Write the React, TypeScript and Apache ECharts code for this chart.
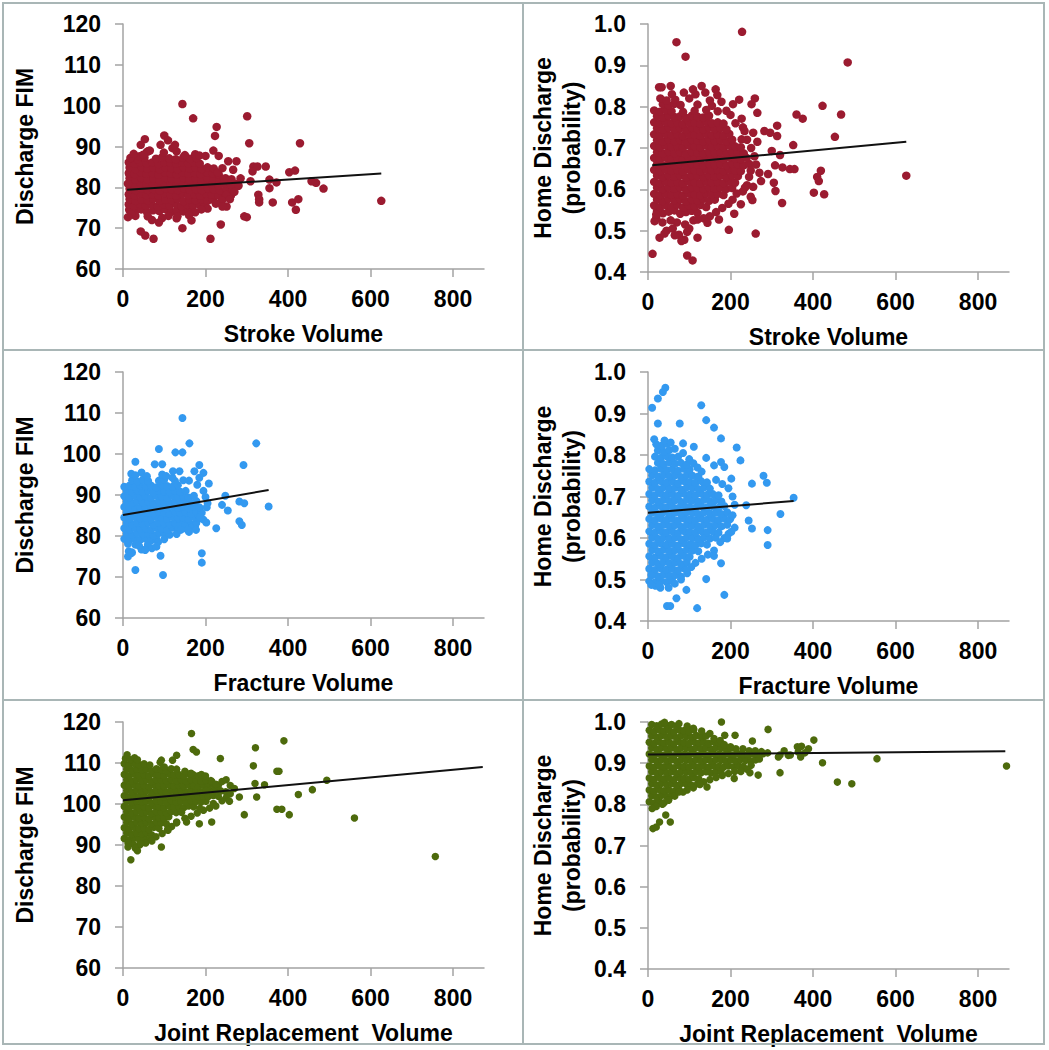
import React, { useEffect, useRef } from "react";
import * as echarts from "echarts";

// ---------- tick values ----------
const xTicks = [0, 200, 400, 600, 800];

// ---------- Stroke: Discharge FIM ----------
const strokeFim: number[][] = [
  [15,74.5],[29,74.1],[44,74.6],[58,74.0],[73,74.4],[88,74.2],[102,74.7],[117,74.0],[131,74.4],[146,74.1],[158,74.6],
  [14,75.8],[27,75.4],[41,75.9],[55,75.5],[70,75.7],[84,75.3],[99,75.8],[113,75.5],[128,75.9],[142,75.4],[156,75.7],[170,75.5],[185,75.8],[198,75.6],
  [16,77.1],[30,76.7],[45,77.0],[60,76.8],[74,77.2],[89,76.7],[103,77.0],[118,76.9],[132,77.2],[147,76.6],[161,77.0],[176,76.8],[190,77.1],[205,76.7],[218,77.0],
  [14,78.3],[28,78.0],[42,78.4],[57,78.1],[71,78.3],[86,78.0],[100,78.5],[115,78.2],[129,78.0],[144,78.4],[158,78.1],[173,78.3],[187,78.0],[202,78.4],[216,78.2],[231,78.0],[247,78.4],[262,78.1],
  [16,79.6],[31,79.3],[45,79.7],[60,79.4],[74,79.6],[89,79.2],[104,79.7],[118,79.5],[133,79.3],[148,79.7],[162,79.4],[177,79.6],[191,79.3],[206,79.7],[220,79.5],[235,79.2],[250,79.6],[266,79.4],
  [14,80.9],[28,80.6],[43,81.0],[57,80.7],[72,80.9],[86,80.5],[101,81.0],[115,80.8],[130,80.6],[144,81.0],[159,80.7],[173,80.9],[188,80.6],[202,81.0],[217,80.8],[232,80.5],[246,80.9],[262,80.7],[276,80.9],
  [16,82.2],[30,81.9],[45,82.3],[59,82.0],[74,82.2],[88,81.8],[103,82.3],[118,82.1],[132,81.9],[147,82.3],[161,82.0],[176,82.2],[190,81.9],[205,82.3],[219,82.1],[234,81.8],[249,82.2],[263,82.0],
  [14,83.5],[28,83.2],[43,83.6],[57,83.3],[72,83.5],[86,83.1],[101,83.6],[116,83.4],[130,83.2],[145,83.6],[159,83.3],[174,83.5],[188,83.2],[203,83.6],[218,83.4],[232,83.1],
  [16,84.8],[30,84.5],[45,84.9],[59,84.6],[74,84.8],[89,84.4],[103,84.9],[118,84.7],[132,84.5],[147,84.9],[162,84.6],[176,84.8],[191,84.5],[205,84.9],[220,84.6],
  [14,86.1],[28,85.8],[42,86.2],[57,85.9],[71,86.1],[86,85.7],[100,86.2],[115,86.0],[129,85.8],[144,86.2],[158,85.9],[172,86.1],[186,85.8],
  [20,87.2],[35,86.9],[52,87.3],[80,87.0],[95,87.4],[112,87.1],[128,86.9],[146,87.3],[162,87.0],[178,87.2],
  [58,88.7],[62,88.9],[120,89.6],[130,88.8],[150,87.9],[175,88.1],[185,87.8],[40,87.6],[18,87.2],[230,83.6],[245,82.1],[262,80.6],[280,80.4],[285,82.2],[270,78.9],[250,78.1],[240,76.8],[225,76.0],[205,74.8],[190,74.6],[175,73.9],[160,73.2],[130,72.4],[110,73.0],[95,72.5],[70,72.0],[60,72.9],[30,73.0],[20,73.4],
  [144,100.4],[170,96.9],[301,97.4],[227,94.8],[223,92.6],[306,90.8],[429,90.8],[100,92.7],[109,91.5],[53,91.8],[43,90.4],[91,90.4],[126,90.4],[26,88.2],[65,89.0],[99,88.5],[49,88.0],[219,89.0],[200,87.7],[232,87.7],[255,86.4],[275,86.4],[241,84.7],[267,84.3],[316,85.1],[326,85.1],[346,85.1],[314,83.9],[403,83.7],[417,84.1],[309,81.5],[355,81.9],[372,81.2],[355,79.8],[457,81.5],[468,81.1],[486,79.7],[328,78.2],[330,77.1],[330,76.3],[363,76.3],[410,76.3],[425,77.1],[419,74.5],[626,76.7],[294,72.9],[300,72.7],[237,70.9],[144,70.0],[166,71.9],[212,67.4],[74,67.4],[54,68.2],[43,69.2],[12,72.7],[87,71.4],[132,72.9],[259,77.1],[251,75.3],[241,75.3],[12,80.9]
];
const strokeFimTrend: number[][] = [[10, 79.4], [626, 83.4]];

// ---------- Stroke: Home Discharge ----------
const strokeHome: number[][] = [
  [22,0.547],[36,0.542],[50,0.546],[64,0.549],[78,0.541],[92,0.545],[106,0.548],[120,0.543],
  [15,0.561],[29,0.557],[43,0.562],[57,0.558],[71,0.563],[85,0.556],[99,0.561],[113,0.559],[127,0.562],[141,0.557],
  [22,0.575],[36,0.572],[50,0.577],[64,0.573],[78,0.576],[92,0.571],[106,0.575],[120,0.573],[134,0.577],[148,0.572],[162,0.575],
  [15,0.589],[29,0.586],[43,0.59],[57,0.587],[71,0.589],[85,0.585],[99,0.59],[113,0.588],[127,0.586],[141,0.59],[155,0.587],[169,0.589],[183,0.586],
  [22,0.604],[36,0.601],[50,0.605],[64,0.602],[78,0.604],[92,0.6],[106,0.605],[120,0.603],[134,0.601],[148,0.605],[162,0.602],[176,0.604],[190,0.601],[204,0.603],
  [15,0.618],[29,0.615],[43,0.619],[57,0.616],[71,0.618],[85,0.614],[99,0.619],[113,0.617],[127,0.615],[141,0.619],[155,0.616],[169,0.618],[183,0.615],[197,0.619],[211,0.616],
  [22,0.633],[36,0.63],[50,0.634],[64,0.631],[78,0.633],[92,0.629],[106,0.634],[120,0.632],[134,0.63],[148,0.634],[162,0.631],[176,0.633],[190,0.63],[204,0.634],[218,0.632],
  [15,0.647],[29,0.644],[43,0.648],[57,0.645],[71,0.647],[85,0.643],[99,0.648],[113,0.646],[127,0.644],[141,0.648],[155,0.645],[169,0.647],[183,0.644],[197,0.648],[211,0.646],[225,0.644],
  [22,0.661],[36,0.658],[50,0.662],[64,0.659],[78,0.661],[92,0.657],[106,0.662],[120,0.66],[134,0.658],[148,0.662],[162,0.659],[176,0.661],[190,0.658],[204,0.662],[218,0.66],[232,0.658],[246,0.661],
  [15,0.676],[29,0.673],[43,0.677],[57,0.674],[71,0.676],[85,0.672],[99,0.677],[113,0.675],[127,0.673],[141,0.677],[155,0.674],[169,0.676],[183,0.673],[197,0.677],[211,0.675],[225,0.673],[239,0.676],
  [22,0.69],[36,0.687],[50,0.691],[64,0.688],[78,0.69],[92,0.686],[106,0.691],[120,0.689],[134,0.687],[148,0.691],[162,0.688],[176,0.69],[190,0.687],[204,0.691],[218,0.689],[232,0.687],
  [15,0.705],[29,0.702],[43,0.706],[57,0.703],[71,0.705],[85,0.701],[99,0.706],[113,0.704],[127,0.702],[141,0.706],[155,0.703],[169,0.705],[183,0.702],[197,0.706],[211,0.704],[225,0.702],
  [22,0.719],[36,0.716],[50,0.72],[64,0.717],[78,0.719],[92,0.715],[106,0.72],[120,0.718],[134,0.716],[148,0.72],[162,0.717],[176,0.719],[190,0.716],[204,0.72],
  [15,0.733],[29,0.73],[43,0.734],[57,0.731],[71,0.733],[85,0.729],[99,0.734],[113,0.732],[127,0.73],[141,0.734],[155,0.731],[169,0.733],[183,0.73],[197,0.734],
  [22,0.748],[36,0.745],[50,0.749],[64,0.746],[78,0.748],[92,0.744],[106,0.749],[120,0.747],[134,0.745],[148,0.749],[162,0.746],[176,0.748],[190,0.745],
  [15,0.762],[29,0.759],[43,0.763],[57,0.76],[71,0.762],[85,0.758],[99,0.763],[113,0.761],[127,0.759],[141,0.763],[155,0.76],[169,0.762],[183,0.759],
  [22,0.777],[36,0.774],[50,0.778],[64,0.775],[78,0.777],[92,0.773],[106,0.778],[120,0.776],[134,0.774],[148,0.778],
  [15,0.791],[29,0.788],[43,0.792],[57,0.789],[85,0.787],[113,0.79],[141,0.792],[169,0.789],
  [36,0.806],[50,0.803],[64,0.807],[120,0.805],[155,0.802],
  [30,0.82],[45,0.815],[58,0.83],[100,0.82],[115,0.83],[150,0.815],[190,0.79],[200,0.78],[212,0.76],[230,0.75],[240,0.72],[250,0.7],[258,0.68],[262,0.66],[270,0.64],[245,0.63],[240,0.61],[230,0.595],[215,0.59],[205,0.575],[195,0.565],[180,0.555],[165,0.545],[150,0.535],[135,0.53],[110,0.525],[90,0.515],[70,0.52],[55,0.525],[35,0.52],[20,0.53],[45,0.5],[60,0.505],[75,0.49],[100,0.505],[88,0.478],
  [228,0.981],[69,0.956],[91,0.921],[484,0.907],[130,0.85],[164,0.842],[55,0.85],[27,0.847],[33,0.847],[139,0.834],[109,0.842],[168,0.828],[87,0.834],[259,0.82],[221,0.817],[251,0.806],[206,0.806],[423,0.802],[66,0.817],[79,0.804],[178,0.812],[468,0.781],[360,0.781],[375,0.771],[265,0.785],[227,0.771],[313,0.754],[234,0.741],[255,0.737],[282,0.741],[296,0.737],[313,0.729],[453,0.727],[227,0.721],[265,0.715],[352,0.707],[300,0.693],[320,0.683],[308,0.658],[326,0.653],[344,0.649],[355,0.649],[249,0.645],[419,0.645],[410,0.63],[414,0.62],[626,0.633],[291,0.637],[274,0.62],[305,0.616],[255,0.606],[309,0.596],[402,0.592],[427,0.588],[235,0.604],[249,0.582],[253,0.574],[325,0.567],[225,0.564],[209,0.541],[196,0.502],[261,0.493],[144,0.519],[172,0.527],[120,0.527],[120,0.483],[95,0.497],[81,0.475],[95,0.44],[108,0.428],[11,0.444],[28,0.483],[40,0.493],[65,0.489],[16,0.523],[20,0.539]
];
const strokeHomeTrend: number[][] = [[10, 0.658], [626, 0.715]];

// ---------- Fracture: Discharge FIM ----------
const fractureFim: number[][] = [
  [3,79.3],[16,79.0],[29,79.4],[42,79.1],[55,79.3],[68,78.9],[81,79.2],
  [9,80.6],[22,80.3],[35,80.7],[48,80.4],[61,80.6],[74,80.2],[87,80.7],[100,80.5],[113,80.3],
  [3,81.9],[16,81.6],[29,82.0],[42,81.7],[55,81.9],[68,81.5],[81,82.0],[94,81.8],[107,81.6],[120,82.0],[133,81.7],[146,81.9],[159,81.6],
  [9,83.2],[22,82.9],[35,83.3],[48,83.0],[61,83.2],[74,82.8],[87,83.3],[100,83.1],[113,82.9],[126,83.3],[139,83.0],[152,83.2],[165,82.9],[178,83.3],
  [3,84.5],[16,84.2],[29,84.6],[42,84.3],[55,84.5],[68,84.1],[81,84.6],[94,84.4],[107,84.2],[120,84.6],[133,84.3],[146,84.5],[159,84.2],[172,84.6],[185,84.4],
  [9,85.8],[22,85.5],[35,85.9],[48,85.6],[61,85.8],[74,85.4],[87,85.9],[100,85.7],[113,85.5],[126,85.9],[139,85.6],[152,85.8],[165,85.5],[178,85.9],[191,85.7],
  [3,87.1],[16,86.8],[29,87.2],[42,86.9],[55,87.1],[68,86.7],[81,87.2],[94,87.0],[107,86.8],[120,87.2],[133,86.9],[146,87.1],[159,86.8],[172,87.2],[185,87.0],
  [9,88.4],[22,88.1],[35,88.5],[48,88.2],[61,88.4],[74,88.0],[87,88.5],[100,88.3],[113,88.1],[126,88.5],[139,88.2],[152,88.4],[165,88.1],[178,88.5],
  [3,89.7],[16,89.4],[29,89.8],[42,89.5],[55,89.7],[68,89.3],[81,89.8],[94,89.6],[107,89.4],[120,89.8],[133,89.5],[146,89.7],[159,89.4],[172,89.8],
  [9,91.0],[22,90.7],[35,91.1],[48,90.8],[61,91.0],[74,90.6],[87,91.1],[100,90.9],[113,90.7],[126,91.1],[139,90.8],[152,91.0],
  [3,92.0],[16,92.3],[29,92.0],[42,92.4],[55,92.1],[68,92.3],[81,91.9],[94,92.4],[107,92.2],[120,92.0],[133,92.4],
  [22,93.6],[35,93.3],[48,93.7],[61,93.4],[87,93.5],[100,93.8],[126,93.4],[146,93.6],
  [20,95.2],[30,94.8],[45,95.5],[58,94.6],[95,95.0],[105,94.6],[120,94.2],[160,93.5],[180,92.5],[195,91.0],[200,89.5],[205,88.0],[195,84.0],[175,82.5],[160,81.0],[130,80.5],[100,79.2],[85,78.5],[60,77.8],[30,77.9],[12,78.1],[45,76.7],[22,76.0],[14,76.3],[70,77.0],[165,82.0],[150,82.3],
  [144,108.8],[161,102.6],[323,102.6],[87,101.2],[127,100.4],[144,100.4],[30,98.1],[77,97.5],[95,97.5],[185,97.3],[292,97.3],[173,95.8],[195,95.4],[121,95.8],[137,95.8],[208,92.8],[185,94.2],[248,89.8],[240,87.6],[254,86.2],[203,87.0],[282,88.4],[294,88.0],[353,87.2],[187,84.6],[202,83.3],[226,81.9],[282,83.6],[288,82.7],[177,81.5],[157,81.5],[140,81.5],[191,75.8],[191,73.5],[91,75.2],[97,70.5],[30,71.7],[12,75.0],[20,75.8],[81,77.4],[54,76.6],[39,77.6]
];
const fractureFimTrend: number[][] = [[0, 85.1], [353, 91.2]];

// ---------- Fracture: Home Discharge ----------
const fractureHome: number[][] = [
  [3,0.496],[17,0.493],[31,0.497],[45,0.494],[59,0.496],
  [10,0.511],[24,0.508],[38,0.512],[52,0.509],[66,0.511],[80,0.507],
  [3,0.526],[17,0.523],[31,0.527],[45,0.524],[59,0.526],[73,0.522],[87,0.527],
  [10,0.541],[24,0.538],[38,0.542],[52,0.539],[66,0.541],[80,0.537],[94,0.542],
  [3,0.556],[17,0.553],[31,0.557],[45,0.554],[59,0.556],[73,0.552],[87,0.557],[101,0.555],
  [10,0.571],[24,0.568],[38,0.572],[52,0.569],[66,0.571],[80,0.567],[94,0.572],[108,0.57],[122,0.568],
  [3,0.586],[17,0.583],[31,0.587],[45,0.584],[59,0.586],[73,0.582],[87,0.587],[101,0.585],[115,0.583],[129,0.587],[143,0.584],
  [10,0.601],[24,0.598],[38,0.602],[52,0.599],[66,0.601],[80,0.597],[94,0.602],[108,0.6],[122,0.598],[136,0.602],[150,0.599],[164,0.601],
  [3,0.616],[17,0.613],[31,0.617],[45,0.614],[59,0.616],[73,0.612],[87,0.617],[101,0.615],[115,0.613],[129,0.617],[143,0.614],[157,0.616],[171,0.613],
  [10,0.631],[24,0.628],[38,0.632],[52,0.629],[66,0.631],[80,0.627],[94,0.632],[108,0.63],[122,0.628],[136,0.632],[150,0.629],[164,0.631],[178,0.628],[192,0.632],
  [3,0.646],[17,0.643],[31,0.647],[45,0.644],[59,0.646],[73,0.642],[87,0.647],[101,0.645],[115,0.643],[129,0.647],[143,0.644],[157,0.646],[171,0.643],[185,0.647],[199,0.645],
  [10,0.661],[24,0.658],[38,0.662],[52,0.659],[66,0.661],[80,0.657],[94,0.662],[108,0.66],[122,0.658],[136,0.662],[150,0.659],[164,0.661],[178,0.658],[192,0.662],
  [3,0.676],[17,0.673],[31,0.677],[45,0.674],[59,0.676],[73,0.672],[87,0.677],[101,0.675],[115,0.673],[129,0.677],[143,0.674],[157,0.676],[171,0.673],[185,0.677],
  [10,0.691],[24,0.688],[38,0.692],[52,0.689],[66,0.691],[80,0.687],[94,0.692],[108,0.69],[122,0.688],[136,0.692],[150,0.689],[164,0.691],[178,0.688],
  [3,0.706],[17,0.703],[31,0.707],[45,0.704],[59,0.706],[73,0.702],[87,0.707],[101,0.705],[115,0.703],[129,0.707],[143,0.704],[157,0.706],[171,0.703],
  [10,0.721],[24,0.718],[38,0.722],[52,0.719],[66,0.721],[80,0.717],[94,0.722],[108,0.72],[122,0.718],[136,0.722],[150,0.719],
  [3,0.736],[17,0.733],[31,0.737],[45,0.734],[59,0.736],[73,0.732],[87,0.737],[101,0.735],[115,0.733],[129,0.737],[143,0.734],
  [10,0.751],[24,0.748],[38,0.752],[52,0.749],[66,0.751],[80,0.747],[94,0.752],[108,0.75],[122,0.748],
  [3,0.766],[17,0.763],[31,0.767],[45,0.764],[59,0.766],[73,0.762],[87,0.767],[101,0.765],
  [24,0.781],[38,0.778],[52,0.782],[66,0.779],[80,0.781],[94,0.777],
  [17,0.796],[31,0.793],[45,0.797],[59,0.794],[73,0.796],
  [24,0.811],[38,0.808],[52,0.812],
  [20,0.826],[34,0.823],[46,0.827],
  [15,0.838],[40,0.835],[55,0.83],[65,0.815],[85,0.805],[100,0.79],[110,0.78],[120,0.77],[130,0.76],[165,0.74],[180,0.73],[195,0.72],[205,0.7],[210,0.68],[205,0.655],[210,0.625],[195,0.61],[185,0.6],[175,0.59],[160,0.57],[145,0.56],[130,0.55],[115,0.54],[105,0.53],[95,0.515],[80,0.5],[65,0.49],[50,0.48],[30,0.48],[18,0.485],
  [42,0.962],[36,0.952],[24,0.936],[10,0.914],[129,0.92],[24,0.876],[77,0.876],[141,0.884],[160,0.866],[177,0.84],[85,0.828],[111,0.82],[215,0.818],[224,0.787],[141,0.793],[177,0.783],[185,0.771],[160,0.775],[280,0.75],[288,0.733],[252,0.731],[202,0.743],[238,0.679],[353,0.697],[321,0.658],[244,0.642],[252,0.623],[290,0.619],[290,0.583],[202,0.615],[192,0.599],[160,0.557],[177,0.539],[141,0.501],[185,0.463],[119,0.431],[94,0.523],[93,0.475],[69,0.455],[46,0.436],[54,0.436],[36,0.397],[8,0.511],[8,0.487],[28,0.487]
];
const fractureHomeTrend: number[][] = [[0, 0.661], [353, 0.689]];

// ---------- Joint replacement: Discharge FIM ----------
const jointFim: number[][] = [
  [3,91.6],[15,91.3],[27,91.7],[39,91.4],[51,91.6],
  [9,92.9],[21,92.6],[33,93.0],[45,92.7],[57,92.9],[69,92.5],
  [3,94.2],[15,93.9],[27,94.3],[39,94.0],[51,94.2],[63,93.8],[75,94.3],[87,94.1],
  [9,95.5],[21,95.2],[33,95.6],[45,95.3],[57,95.5],[69,95.1],[81,95.6],[93,95.4],[105,95.2],
  [3,96.8],[15,96.5],[27,96.9],[39,96.6],[51,96.8],[63,96.4],[75,96.9],[87,96.7],[99,96.5],[111,96.9],
  [9,98.1],[21,97.8],[33,98.2],[45,97.9],[57,98.1],[69,97.7],[81,98.2],[93,98.0],[105,97.8],[117,98.2],[129,97.9],[141,98.1],
  [3,99.4],[15,99.1],[27,99.5],[39,99.2],[51,99.4],[63,99.0],[75,99.5],[87,99.3],[99,99.1],[111,99.5],[123,99.2],[135,99.4],[147,99.1],[159,99.5],[171,99.3],
  [9,100.7],[21,100.4],[33,100.8],[45,100.5],[57,100.7],[69,100.3],[81,100.8],[93,100.6],[105,100.4],[117,100.8],[129,100.5],[141,100.7],[153,100.4],[165,100.8],[177,100.6],[189,100.4],[201,100.7],
  [3,102.0],[15,101.7],[27,102.1],[39,101.8],[51,102.0],[63,101.6],[75,102.1],[87,101.9],[99,101.7],[111,102.1],[123,101.8],[135,102.0],[147,101.7],[159,102.1],[171,101.9],[183,101.7],[195,102.0],[207,101.8],[219,102.1],[231,101.9],
  [9,103.3],[21,103.0],[33,103.4],[45,103.1],[57,103.3],[69,102.9],[81,103.4],[93,103.2],[105,103.0],[117,103.4],[129,103.1],[141,103.3],[153,103.0],[165,103.4],[177,103.2],[189,103.0],[201,103.3],[213,103.1],[225,103.4],[237,103.2],[249,103.0],
  [3,104.6],[15,104.3],[27,104.7],[39,104.4],[51,104.6],[63,104.2],[75,104.7],[87,104.5],[99,104.3],[111,104.7],[123,104.4],[135,104.6],[147,104.3],[159,104.7],[171,104.5],[183,104.3],[195,104.6],[207,104.4],[219,104.7],[231,104.5],
  [9,105.9],[21,105.6],[33,106.0],[45,105.7],[57,105.9],[69,105.5],[81,106.0],[93,105.8],[105,105.6],[117,106.0],[129,105.7],[141,105.9],[153,105.6],[165,106.0],[177,105.8],[189,105.6],[201,105.9],[213,105.7],
  [3,107.2],[15,106.9],[27,107.3],[39,107.0],[51,107.2],[63,106.8],[75,107.3],[87,107.1],[99,106.9],[111,107.3],[123,107.0],[135,107.2],[147,106.9],[159,107.3],[171,107.1],[183,106.9],
  [9,108.5],[21,108.2],[33,108.6],[45,108.3],[57,108.5],[69,108.1],[81,108.6],[93,108.4],[105,108.2],[117,108.6],
  [3,109.8],[15,109.5],[27,109.9],[39,109.6],[51,109.8],
  [6,111.1],[18,110.8],[28,111.3],
  [10,112.0],[35,110.8],[65,109.5],[90,110.2],[100,109.0],[130,108.5],[150,108.0],[165,107.5],[190,107.2],[200,106.8],[215,105.5],[225,104.8],[240,105.5],[250,105.9],[260,104.5],[270,103.8],[260,102.5],[250,101.5],[240,100.8],[225,99.5],[210,99.0],[195,98.5],[180,97.8],[165,97.0],[150,96.5],[130,95.6],[118,94.5],[108,93.8],[95,92.8],[80,92.0],[65,91.5],[55,90.5],[40,90.0],[25,90.2],[12,90.5],[30,89.2],[70,91.0],
  [166,117.2],[390,115.4],[321,113.7],[170,113.3],[178,112.7],[130,111.9],[120,110.7],[236,111.1],[93,110.7],[316,109.3],[373,108.0],[378,108.0],[494,105.8],[876,105.2],[320,105.0],[343,104.7],[459,103.5],[425,102.3],[324,101.7],[282,101.7],[258,100.7],[373,98.7],[385,98.7],[403,97.4],[294,97.4],[561,96.6],[757,87.2],[215,95.6],[185,95.2],[154,95.6],[130,95.4],[109,93.6],[93,89.5],[19,86.4],[35,88.6],[43,90.3],[12,89.5],[142,98.0],[186,98.9],[219,100.1],[202,103.3]
];
const jointFimTrend: number[][] = [[0, 100.9], [872, 109.0]];

// ---------- Joint replacement: Home Discharge ----------
const jointHome: number[][] = [
  [3,0.806],[15,0.803],[27,0.807],[39,0.804],
  [9,0.821],[21,0.818],[33,0.822],[45,0.819],[57,0.821],
  [3,0.835],[15,0.832],[27,0.836],[39,0.833],[51,0.835],[63,0.831],[75,0.836],
  [9,0.85],[21,0.847],[33,0.851],[45,0.848],[57,0.85],[69,0.846],[81,0.851],[93,0.849],[105,0.847],
  [3,0.864],[15,0.861],[27,0.865],[39,0.862],[51,0.864],[63,0.86],[75,0.865],[87,0.863],[99,0.861],[111,0.865],[123,0.862],
  [9,0.879],[21,0.876],[33,0.88],[45,0.877],[57,0.879],[69,0.875],[81,0.88],[93,0.878],[105,0.876],[117,0.88],[129,0.877],[141,0.879],[153,0.876],[165,0.88],[177,0.878],
  [3,0.893],[15,0.89],[27,0.894],[39,0.891],[51,0.893],[63,0.889],[75,0.894],[87,0.892],[99,0.89],[111,0.894],[123,0.891],[135,0.893],[147,0.89],[159,0.894],[171,0.892],[183,0.89],[195,0.893],[207,0.891],[219,0.894],[231,0.892],
  [9,0.908],[21,0.905],[33,0.909],[45,0.906],[57,0.908],[69,0.904],[81,0.909],[93,0.907],[105,0.905],[117,0.909],[129,0.906],[141,0.908],[153,0.905],[165,0.909],[177,0.907],[189,0.905],[201,0.908],[213,0.906],[225,0.909],[237,0.907],[249,0.905],[261,0.908],
  [3,0.922],[15,0.919],[27,0.923],[39,0.92],[51,0.922],[63,0.918],[75,0.923],[87,0.921],[99,0.919],[111,0.923],[123,0.92],[135,0.922],[147,0.919],[159,0.923],[171,0.921],[183,0.919],[195,0.922],[207,0.92],[219,0.923],[231,0.921],[243,0.919],[255,0.922],[267,0.92],[279,0.923],
  [9,0.937],[21,0.934],[33,0.938],[45,0.935],[57,0.937],[69,0.933],[81,0.938],[93,0.936],[105,0.934],[117,0.938],[129,0.935],[141,0.937],[153,0.934],[165,0.938],[177,0.936],[189,0.934],[201,0.937],[213,0.935],
  [3,0.951],[15,0.948],[27,0.952],[39,0.949],[51,0.951],[63,0.947],[75,0.952],[87,0.95],[99,0.948],[111,0.952],[123,0.949],[135,0.951],[147,0.948],[159,0.952],[171,0.95],
  [9,0.966],[21,0.963],[33,0.967],[45,0.964],[57,0.966],[69,0.962],[81,0.967],[93,0.965],[105,0.963],[117,0.967],[129,0.964],[141,0.966],
  [3,0.98],[15,0.977],[27,0.981],[39,0.978],[51,0.98],[63,0.976],[75,0.981],[87,0.979],[99,0.977],[111,0.981],
  [9,0.994],[21,0.991],[33,0.995],[45,0.992],[57,0.994],[69,0.99],
  [40,0.999],[75,0.996],[95,0.99],[110,0.985],[130,0.978],[150,0.972],[160,0.96],[175,0.955],[185,0.945],[200,0.94],[230,0.935],[245,0.93],[260,0.93],[275,0.928],[290,0.925],[270,0.91],[250,0.895],[240,0.885],[225,0.88],[210,0.88],[195,0.875],[180,0.87],[165,0.865],[150,0.86],[135,0.855],[120,0.85],[110,0.84],[95,0.835],[85,0.83],[65,0.82],[50,0.81],[35,0.8],[20,0.795],[10,0.79],
  [178,1.0],[291,0.982],[402,0.956],[253,0.954],[372,0.941],[555,0.911],[423,0.901],[869,0.893],[320,0.877],[267,0.871],[247,0.877],[209,0.863],[459,0.854],[494,0.85],[126,0.848],[143,0.842],[28,0.757],[43,0.774],[54,0.757],[12,0.741],[20,0.745],[75,0.83],[340,0.919],[316,0.915],[364,0.927],[389,0.935],[186,0.968],[211,0.968],[362,0.94],[380,0.925],[370,0.915],[345,0.92],[320,0.92],[330,0.93]
];
const jointHomeTrend: number[][] = [[0, 0.921], [866, 0.929]];

const RED = "#9b1b30";
const BLUE = "#3399f0";
const GREEN = "#4d6a0c";
const BORDER = "#a9b6b6";
const AXIS = "#a3a3a3";
const FONT = "'Liberation Sans', Arial, sans-serif";

const panels = [
  { data: strokeFim, trend: strokeFimTrend, color: RED, xName: "Stroke Volume", fim: true, left: 123, top: 24, height: 245, size: 8.5 },
  { data: strokeHome, trend: strokeHomeTrend, color: RED, xName: "Stroke Volume", fim: false, left: 648, top: 24, height: 248, size: 8.5 },
  { data: fractureFim, trend: fractureFimTrend, color: BLUE, xName: "Fracture Volume", fim: true, left: 123, top: 372, height: 246, size: 8 },
  { data: fractureHome, trend: fractureHomeTrend, color: BLUE, xName: "Fracture Volume", fim: false, left: 648, top: 372, height: 249, size: 8 },
  { data: jointFim, trend: jointFimTrend, color: GREEN, xName: "Joint Replacement  Volume", fim: true, left: 123, top: 722, height: 246, size: 7.5 },
  { data: jointHome, trend: jointHomeTrend, color: GREEN, xName: "Joint Replacement  Volume", fim: false, left: 648, top: 722, height: 247, size: 7.5 },
];

const boxes = [
  [3, 3, 520, 347], [523, 3, 521, 347],
  [3, 350, 520, 350], [523, 350, 521, 350],
  [3, 700, 520, 344], [523, 700, 521, 344],
];

export default function App() {
  const ref = useRef<HTMLDivElement>(null);
  useEffect(() => {
    document.body.style.margin = "0";
    if (!ref.current) return;
    const chart = echarts.init(ref.current, undefined, { renderer: "svg" });
    const labelStyle = { color: "#000", fontFamily: FONT, fontWeight: "bold" as const, fontSize: 23 };
    const option: any = {
      animation: false,
      backgroundColor: "#fff",
      grid: panels.map((p) => ({ left: p.left, top: p.top, width: 361, height: p.height, containLabel: false })),
      xAxis: panels.map((p, i) => ({
        type: "value",
        gridIndex: i,
        min: 0,
        max: 875,
        interval: 200,
        splitLine: { show: false },
        axisLine: { show: true, onZero: false, lineStyle: { color: AXIS, width: 1.5 } },
        axisTick: { show: true, length: 8, lineStyle: { color: AXIS, width: 1.5 }, customValues: xTicks },
        axisLabel: { ...labelStyle, margin: 18, customValues: xTicks },
        name: p.xName,
        nameLocation: "middle",
        nameGap: 53,
        nameTextStyle: { ...labelStyle },
      })),
      yAxis: panels.map((p, i) => ({
        type: "value",
        gridIndex: i,
        min: p.fim ? 60 : 0.4,
        max: p.fim ? 120 : 1.0,
        interval: p.fim ? 10 : 0.1,
        splitLine: { show: false },
        axisLine: { show: true, onZero: false, lineStyle: { color: AXIS, width: 1.5 } },
        axisTick: { show: true, length: 8, lineStyle: { color: AXIS, width: 1.5 } },
        axisLabel: {
          ...labelStyle,
          margin: 22,
          formatter: (v: number) => (p.fim ? String(Math.round(v)) : v.toFixed(1)),
        },
        name: p.fim ? "Discharge FIM" : "Home Discharge\n(probability)",
        nameLocation: "middle",
        nameGap: p.fim ? 84 : 62,
        nameTextStyle: { ...labelStyle, lineHeight: 29 },
      })),
      series: [
        ...panels.map((p, i) => ({
          type: "scatter",
          xAxisIndex: i,
          yAxisIndex: i,
          data: p.data,
          symbol: "circle",
          symbolSize: p.size,
          itemStyle: { color: p.color, opacity: 1 },
          z: 2,
        })),
        ...panels.map((p, i) => ({
          type: "line",
          xAxisIndex: i,
          yAxisIndex: i,
          data: p.trend,
          showSymbol: false,
          symbol: "none",
          lineStyle: { color: "#111", width: 2 },
          z: 5,
        })),
      ],
      graphic: boxes.map((b) => ({
        type: "rect",
        shape: { x: b[0], y: b[1], width: b[2], height: b[3] },
        style: { fill: "none", stroke: BORDER, lineWidth: 2 },
        silent: true,
        z: 10,
      })),
    };
    chart.setOption(option);
    return () => chart.dispose();
  }, []);
  return <div ref={ref} style={{ width: 1049, height: 1050, position: "absolute", left: 0, top: 0 }} />;
}
